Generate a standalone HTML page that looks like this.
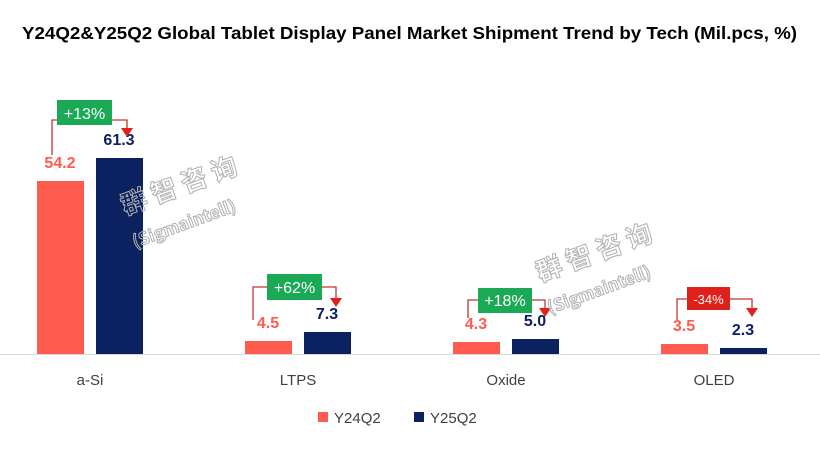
<!DOCTYPE html><html><head><style>
body{margin:0;background:#fff;font-family:"Liberation Sans",sans-serif}
</style></head><body>
<svg width="820" height="448" xmlns="http://www.w3.org/2000/svg" font-family="Liberation Sans, sans-serif">
<text x="22" y="39" font-size="17.5" font-weight="bold" fill="#000" textLength="775" lengthAdjust="spacingAndGlyphs">Y24Q2&amp;Y25Q2 Global Tablet Display Panel Market Shipment Trend by Tech (Mil.pcs, %)</text>
<line x1="0" y1="354.5" x2="820" y2="354.5" stroke="#d9d9d9"/>
<g fill="#ff5b4f">
<rect x="37" y="181" width="47" height="173"/><rect x="245" y="341" width="47" height="13"/>
<rect x="453" y="342" width="47" height="12"/><rect x="661" y="344" width="47" height="10"/></g>
<g fill="#0c2160">
<rect x="96" y="158" width="47" height="196"/><rect x="304" y="332" width="47" height="22"/>
<rect x="512" y="339" width="47" height="15"/><rect x="720" y="348" width="47" height="6"/></g>
<g font-size="16" font-weight="bold" text-anchor="middle">
<g fill="#ff5b4f"><text x="60" y="168">54.2</text><text x="268" y="328">4.5</text><text x="476" y="329">4.3</text><text x="684" y="331">3.5</text></g>
<g fill="#0c2160"><text x="119" y="145">61.3</text><text x="327" y="319">7.3</text><text x="535" y="326">5.0</text><text x="743" y="335">2.3</text></g></g>
<g stroke="#c0392b" stroke-width="1.3" fill="none">
<path d="M52 155V120H127V130"/><path d="M253 320V287H336V300"/><path d="M468 318V300H545V310"/><path d="M677 320V299H752V310"/></g>
<g fill="#e0201a"><path d="M121 128h12l-6 9z"/><path d="M330 298h12l-6 9z"/><path d="M539 308h12l-6 9z"/><path d="M746 308h12l-6 9z"/></g>
<rect x="57" y="100" width="55" height="25" fill="#1aaa55"/><rect x="267" y="274" width="55" height="26" fill="#1aaa55"/>
<rect x="478" y="288" width="54" height="25" fill="#1aaa55"/><rect x="687" y="287" width="43" height="23" fill="#e0201a"/>
<g fill="#fff" text-anchor="middle"><text x="84.5" y="119" font-size="16">+13%</text><text x="294.5" y="293" font-size="16">+62%</text><text x="505" y="306" font-size="16">+18%</text><text x="708.5" y="304" font-size="13">-34%</text></g>
<g font-size="15" fill="#404040" text-anchor="middle"><text x="90" y="385">a-Si</text><text x="298" y="385">LTPS</text><text x="506" y="385">Oxide</text><text x="714" y="385">OLED</text></g>
<rect x="318" y="412" width="10" height="10" fill="#ff5b4f"/><text x="334" y="423" font-size="15" fill="#404040">Y24Q2</text>
<rect x="414" y="412" width="10" height="10" fill="#0c2160"/><text x="430" y="423" font-size="15" fill="#404040">Y25Q2</text>
<g fill="none" stroke="#b0b0b0" font-weight="bold" font-family="Noto Sans CJK SC, sans-serif">
<text x="125" y="215" font-size="26" transform="rotate(-20 125 215)">群 智 咨 询</text>
<text x="135" y="248" font-size="17" transform="rotate(-20 135 248)">(Sigmaintell)</text>
<text x="540" y="282" font-size="26" transform="rotate(-20 540 282)">群 智 咨 询</text>
<text x="550" y="314" font-size="17" transform="rotate(-20 550 314)">(Sigmaintell)</text></g>
</svg></body></html>
